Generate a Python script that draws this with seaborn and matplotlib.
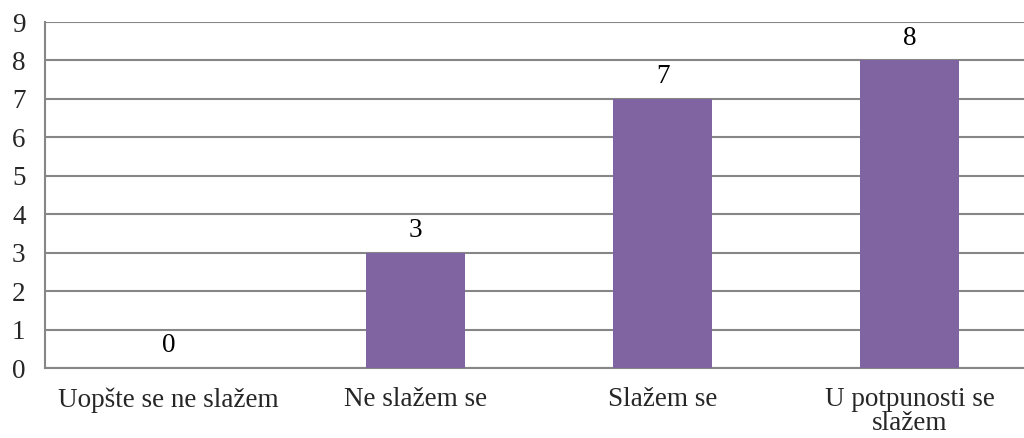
import matplotlib
matplotlib.use("Agg")
import matplotlib.pyplot as plt
import seaborn as sns
import pandas as pd

categories = ["Uopšte se ne slažem", "Ne slažem se", "Slažem se", "U potpunosti se\nslažem"]
values = [0, 3, 7, 8]
y_ticks = list(range(0, 10))

df = pd.DataFrame({"category": categories, "value": values})

sns.set_style("white")
plt.rcParams["font.family"] = ["Liberation Serif", "DejaVu Serif"]

grey = "#868686"
purple = "#8064A2"
fs = 19.5

fig = plt.figure(figsize=(10.24, 4.38), dpi=100)
ax = fig.add_axes([45 / 1024, 70 / 438, 988 / 1024, 346 / 438])

sns.barplot(data=df, x="category", y="value", color=purple, width=0.4,
            saturation=1, linewidth=0, ax=ax, zorder=3)

for i, v in enumerate(values):
    ax.text(i, v + 0.25, str(v), ha="center", va="bottom", fontsize=fs, color="black")

ax.set_ylim(0, 9)
ax.set_xlim(-0.5, len(categories) - 0.5)
ax.set_yticks(y_ticks)
ax.yaxis.grid(True, color=grey, linewidth=1.5, zorder=0)
ax.set_axisbelow(True)

ax.set_xticks([i - 0.5 for i in range(len(categories) + 1)], minor=True)
ax.tick_params(axis="x", which="major", length=0, labelsize=fs, pad=14)
ax.tick_params(axis="x", which="minor", length=7, width=1.5, color=grey)
ax.tick_params(axis="y", length=8, width=1.5, color=grey, labelsize=fs, pad=6)

for side in ["top", "right"]:
    ax.spines[side].set_visible(False)
for side in ["left", "bottom"]:
    ax.spines[side].set_color(grey)
    ax.spines[side].set_linewidth(1.5)

ax.set_xlabel("")
ax.set_ylabel("")
for lbl in ax.get_xticklabels():
    lbl.set_linespacing(0.95)

fig.savefig("out.png", dpi=100)
